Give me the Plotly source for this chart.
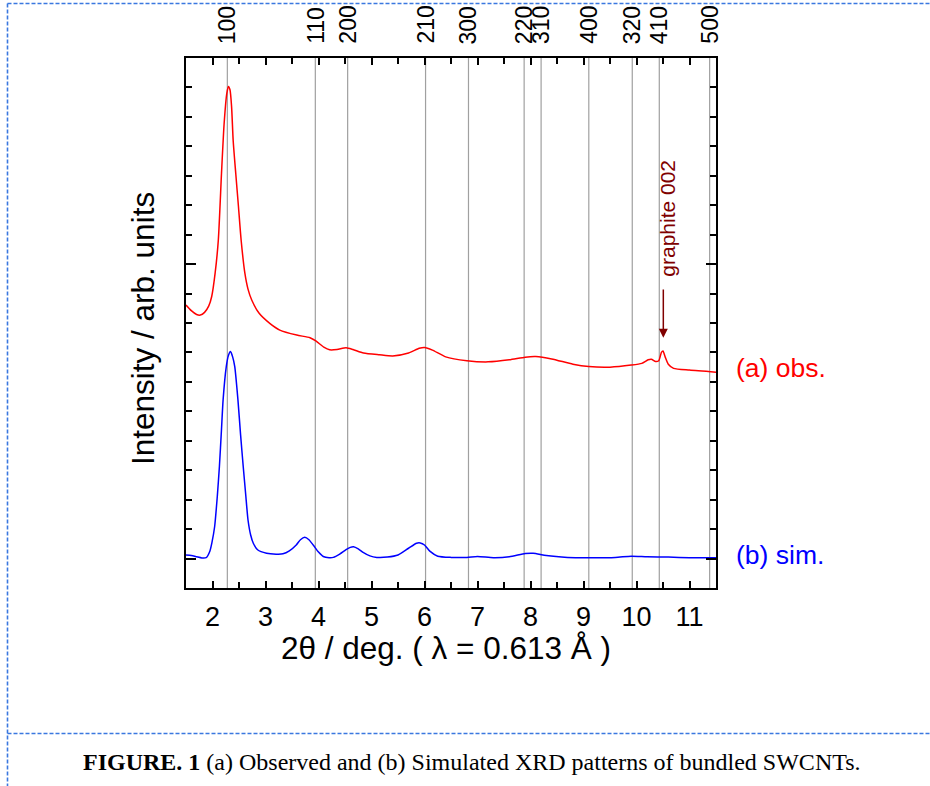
import plotly.graph_objects as go

# ---------------- data ----------------
obs_x = [1.50, 1.60, 1.70, 1.77, 1.85, 1.93, 1.985, 2.05, 2.11, 2.17, 2.22, 2.27, 2.30, 2.33,
         2.36, 2.39, 2.44, 2.49, 2.54, 2.61, 2.67, 2.74, 2.88, 3.08, 3.27, 3.59, 3.84, 3.95,
         4.10, 4.21, 4.35, 4.52, 4.65, 4.85, 5.15, 5.40, 5.70, 5.90, 6.00, 6.15, 6.40, 6.80,
         7.20, 7.60, 7.90, 8.10, 8.40, 8.80, 9.10, 9.50, 9.90, 10.10, 10.22, 10.28, 10.36,
         10.42, 10.47, 10.50, 10.54, 10.60, 10.70, 11.00, 11.50]
obs_y = [8.61, 8.42, 8.29, 8.27, 8.36, 8.58, 8.90, 9.70, 10.82, 13.09, 14.79, 15.80, 16.03, 15.92,
         15.35, 14.20, 13.05, 11.95, 10.82, 9.70, 9.15, 8.78, 8.33, 7.99, 7.76, 7.59, 7.50, 7.39,
         7.18, 7.09, 7.10, 7.16, 7.10, 6.98, 6.92, 6.88, 6.98, 7.14, 7.17, 7.08, 6.85, 6.72,
         6.68, 6.75, 6.84, 6.86, 6.78, 6.60, 6.52, 6.50, 6.57, 6.63, 6.75, 6.77, 6.69,
         6.72, 7.00, 7.05, 6.85, 6.60, 6.46, 6.40, 6.33]

sim_x = [1.50, 1.60, 1.70, 1.80, 1.88, 1.95, 1.99, 2.04, 2.09, 2.13, 2.17, 2.20, 2.26, 2.30,
         2.34, 2.38, 2.42, 2.48, 2.53, 2.58, 2.63, 2.67, 2.72, 2.77, 2.85, 3.02, 3.20, 3.33,
         3.45, 3.58, 3.66, 3.74, 3.82, 3.90, 4.00, 4.09, 4.20, 4.28, 4.40, 4.52, 4.60, 4.66,
         4.75, 4.85, 4.97, 5.10, 5.30, 5.50, 5.70, 5.85, 5.92, 6.00, 6.10, 6.25, 6.50, 6.80,
         7.00, 7.30, 7.60, 7.90, 8.05, 8.30, 8.70, 9.10, 9.60, 9.90, 10.20, 10.60, 11.00, 11.50]
sim_y = [0.12, 0.10, 0.06, 0.02, 0.03, 0.25, 0.55, 1.08, 2.10, 3.12, 4.40, 5.39, 6.52, 6.90,
         7.03, 6.85, 6.52, 5.39, 4.20, 3.12, 2.10, 1.31, 0.80, 0.52, 0.30, 0.18, 0.15, 0.16,
         0.26, 0.46, 0.64, 0.72, 0.64, 0.46, 0.22, 0.07, 0.03, 0.04, 0.15, 0.30, 0.38, 0.40,
         0.33, 0.20, 0.09, 0.04, 0.05, 0.12, 0.35, 0.52, 0.53, 0.46, 0.25, 0.08, 0.04, 0.04,
         0.07, 0.03, 0.06, 0.17, 0.18, 0.10, 0.04, 0.03, 0.04, 0.08, 0.06, 0.05, 0.03, 0.03]

reflection_labels = ["100", "110", "200", "210", "300", "220", "310", "400", "320", "410", "500"]
reflection_pos = [2.28, 3.94, 4.55, 6.02, 6.83, 7.88, 8.20, 9.10, 9.92, 10.43, 11.38]

x_ticks = [2, 3, 4, 5, 6, 7, 8, 9, 10, 11]
series_labels = ["(a) obs.", "(b) sim."]
series_label_y = [6.47, 0.12]
graphite_label = "graphite 002"
caption_bold = "FIGURE. 1"
caption_rest = " (a) Observed and (b) Simulated XRD patterns of bundled SWCNTs."

# ---------------- layout constants (page pixels; body margin removed) ----------------
W, H = 930, 786
L, R, T, B = 186, 716, 58, 588
PW, PH = R - L, B - T


def px_x(p):
    return (p - L) / PW


def px_y(p):
    return (B - p) / PH


FONT = "Arial, Liberation Sans, sans-serif"
SERIF = "Times New Roman, Liberation Serif, serif"

fig = go.Figure()

shapes = []
for xv in reflection_pos:
    shapes.append(dict(type="line", xref="x", yref="paper", x0=xv, x1=xv, y0=0, y1=1,
                       line=dict(color="#a0a0a0", width=1.2), layer="below"))

dash_col = "#3b78e0"
dash = dict(color=dash_col, width=1.6, dash="4px,2px")
shapes += [
    dict(type="line", xref="paper", yref="paper", x0=px_x(7.5), x1=px_x(940), y0=px_y(3.5), y1=px_y(3.5), line=dash),
    dict(type="line", xref="paper", yref="paper", x0=px_x(7.5), x1=px_x(7.5), y0=px_y(3.5), y1=px_y(800), line=dash),
    dict(type="line", xref="paper", yref="paper", x0=px_x(7.5), x1=px_x(940), y0=px_y(733.5), y1=px_y(733.5), line=dash),
]

fig.add_trace(go.Scatter(x=obs_x, y=obs_y, mode="lines",
                         line=dict(color="#ff0000", width=1.5, shape="spline", smoothing=0.6),
                         showlegend=False, hoverinfo="skip"))
fig.add_trace(go.Scatter(x=sim_x, y=sim_y, mode="lines",
                         line=dict(color="#0000ff", width=1.5, shape="spline", smoothing=0.6),
                         showlegend=False, hoverinfo="skip"))

annotations = []
for lab, xv in zip(reflection_labels, reflection_pos):
    annotations.append(dict(text=lab, x=xv, xref="x", y=1, yref="paper", yanchor="bottom", xanchor="center",
                            yshift=12, textangle=-90, showarrow=False,
                            font=dict(family=FONT, size=23, color="black")))

for lab, yv, col in zip(series_labels, series_label_y, ["#ff0000", "#0000ff"]):
    annotations.append(dict(text=lab, x=1, xref="paper", y=yv, yref="y", xanchor="left", yanchor="middle",
                            xshift=18, showarrow=False, font=dict(family=FONT, size=26.5, color=col)))

annotations.append(dict(text=graphite_label, x=10.57, xref="x", y=px_y(218), yref="paper", textangle=-90,
                        xanchor="center", yanchor="middle", showarrow=False,
                        font=dict(family=FONT, size=21, color="#800000")))
annotations.append(dict(text="", x=10.506, y=7.50, xref="x", yref="y", ax=10.506, ay=9.19, axref="x", ayref="y",
                        showarrow=True, arrowhead=2, arrowsize=1.2, arrowwidth=1.5, arrowcolor="#800000"))

annotations.append(dict(text="Intensity / arb. units", x=px_x(143), y=px_y(329), xref="paper", yref="paper",
                        textangle=-90, xanchor="center", yanchor="middle", showarrow=False,
                        font=dict(family=FONT, size=31.5, color="black")))
annotations.append(dict(text="2θ / deg. ( λ = 0.613 Å )", x=px_x(446), y=px_y(648), xref="paper", yref="paper",
                        xanchor="center", yanchor="middle", showarrow=False,
                        font=dict(family=FONT, size=31.5, color="black")))

annotations.append(dict(text="<b>" + caption_bold + "</b>" + caption_rest, x=px_x(472), y=px_y(762),
                        xref="paper", yref="paper", xanchor="center", yanchor="middle", showarrow=False,
                        font=dict(family=SERIF, size=24, color="black")))

fig.update_layout(
    width=W, height=H,
    margin=dict(l=L, r=W - R, t=T, b=H - B, pad=0),
    paper_bgcolor="white", plot_bgcolor="white",
    shapes=shapes, annotations=annotations,
    xaxis=dict(range=[1.5, 11.5], tickvals=x_ticks, ticktext=[str(v) for v in x_ticks],
               ticks="inside", ticklen=7, tickwidth=1.5, tickcolor="black",
               minor=dict(dtick=0.5, ticks="inside", ticklen=6, tickwidth=1.5, tickcolor="black"),
               showline=True, linecolor="black", linewidth=2, mirror="ticks",
               showgrid=False, zeroline=False,
               tickfont=dict(family=FONT, size=27, color="black"), ticklabelstandoff=4),
    yaxis=dict(range=[-1, 17], tickvals=[0, 10], showticklabels=False,
               ticks="inside", ticklen=10, tickwidth=1.5, tickcolor="black",
               minor=dict(dtick=1, ticks="inside", ticklen=6, tickwidth=1.5, tickcolor="black"),
               showline=True, linecolor="black", linewidth=2, mirror="ticks",
               showgrid=False, zeroline=False),
)

fig.write_html("out.html", config={"displayModeBar": False},
               post_script="document.body.style.margin='0';")
